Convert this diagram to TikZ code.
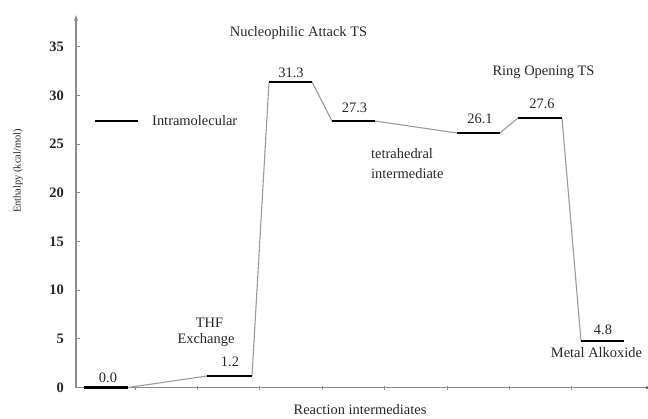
\documentclass[tikz,border=0pt]{standalone}
\usepackage{fontspec}
\setmainfont{Liberation Serif}
\usetikzlibrary{arrows.meta}
\definecolor{axisgray}{HTML}{8C8C8C}
\definecolor{conngray}{HTML}{9A9A9A}
\tikzset{
  axisline/.style={draw=axisgray, line width=1.2pt},
  level/.style={draw=black, line width=2.6pt},
  conn/.style={draw=conngray, line width=1.1pt},
  lab/.style={font=\fontsize{14.5}{16}\selectfont, inner sep=0pt, text=black!85},
  ticklab/.style={font=\fontsize{14.5}{16}\selectfont\bfseries, inner sep=0pt, anchor=east, text=black!85},
}
\begin{document}
\begin{tikzpicture}[x=1bp, y=-1bp]
\useasboundingbox (0,0) rectangle (648,418);
% axes
\coordinate (O) at (76,387.5);
\coordinate (Ytop) at (76,15);
\coordinate (Xend) at (647,387.5);
\draw[axisline, -{Stealth[length=6pt,width=4pt]}] (O) -- (Ytop);
\draw[axisline] (O) -- (Xend);
\fill[black!70] (Xend) circle (1.5bp);
% y ticks and labels
\foreach \v in {0,5,...,35}{
  \draw[axisline, line width=0.8pt] (76,387.5-\v*9.74) -- (80,387.5-\v*9.74);
  \node[ticklab] (t\v) at (64,387.5-\v*9.74) {\v};
}
% x ticks
\foreach \k in {0,...,7}{
  \draw[axisline, line width=0.8pt] (135+\k*62.4,385.5) -- (135+\k*62.4,389.5);
}
% axis titles
\node[lab, rotate=90, font=\fontsize{10.5}{12}\selectfont] (ylab) at (18,171) {Enthalpy (kcal/mol)};
\node[lab] (xlab) at (360,410) {Reaction intermediates};
% legend
\coordinate (legA) at (95,121);
\coordinate (legB) at (138,121);
\draw[draw=black, line width=2.4pt] (legA) -- (legB);
\node[lab, anchor=west] (legT) at (152,121) {Intramolecular};
% levels
\coordinate (a0) at (84,387.5);  \coordinate (b0) at (128,387.5);
\coordinate (a1) at (207,376);   \coordinate (b1) at (252,376);
\coordinate (a2) at (269,82);    \coordinate (b2) at (312,82);
\coordinate (a3) at (332,121);   \coordinate (b3) at (375,121);
\coordinate (a4) at (457,133);   \coordinate (b4) at (500,133);
\coordinate (a5) at (518,118);   \coordinate (b5) at (562,118);
\coordinate (a6) at (581,341);   \coordinate (b6) at (624,341);
\draw[conn] (b0) -- (a1);
\draw[conn] (b1) -- (a2);
\draw[conn] (b2) -- (a3);
\draw[conn] (b3) -- (a4);
\draw[conn] (b4) -- (a5);
\draw[conn] (b5) -- (a6);
\foreach \i in {0,...,6}{ \draw[level] (a\i) -- (b\i); }
% value labels
\node[lab] (v0) at (108,377.5) {0.0};
\node[lab] (v1) at (230,361.5) {1.2};
\node[lab] (v2) at (291,73) {31.3};
\node[lab] (v3) at (354.5,107.5) {27.3};
\node[lab] (v4) at (480,119) {26.1};
\node[lab] (v5) at (542,103.5) {27.6};
\node[lab] (v6) at (603,330) {4.8};
% state labels
\node[lab] (thf) at (209.5,323) {THF};
\node[lab] (exch) at (206,340) {Exchange};
\node[lab] (nuc) at (298.5,33) {Nucleophilic Attack TS};
\node[lab] (ring) at (543.5,72) {Ring Opening TS};
\node[lab, anchor=west] (tet1) at (371,154) {tetrahedral};
\node[lab, anchor=west] (tet2) at (371,174) {intermediate};
\node[lab] (metal) at (596.5,352.5) {Metal Alkoxide};
\end{tikzpicture}
\end{document}
